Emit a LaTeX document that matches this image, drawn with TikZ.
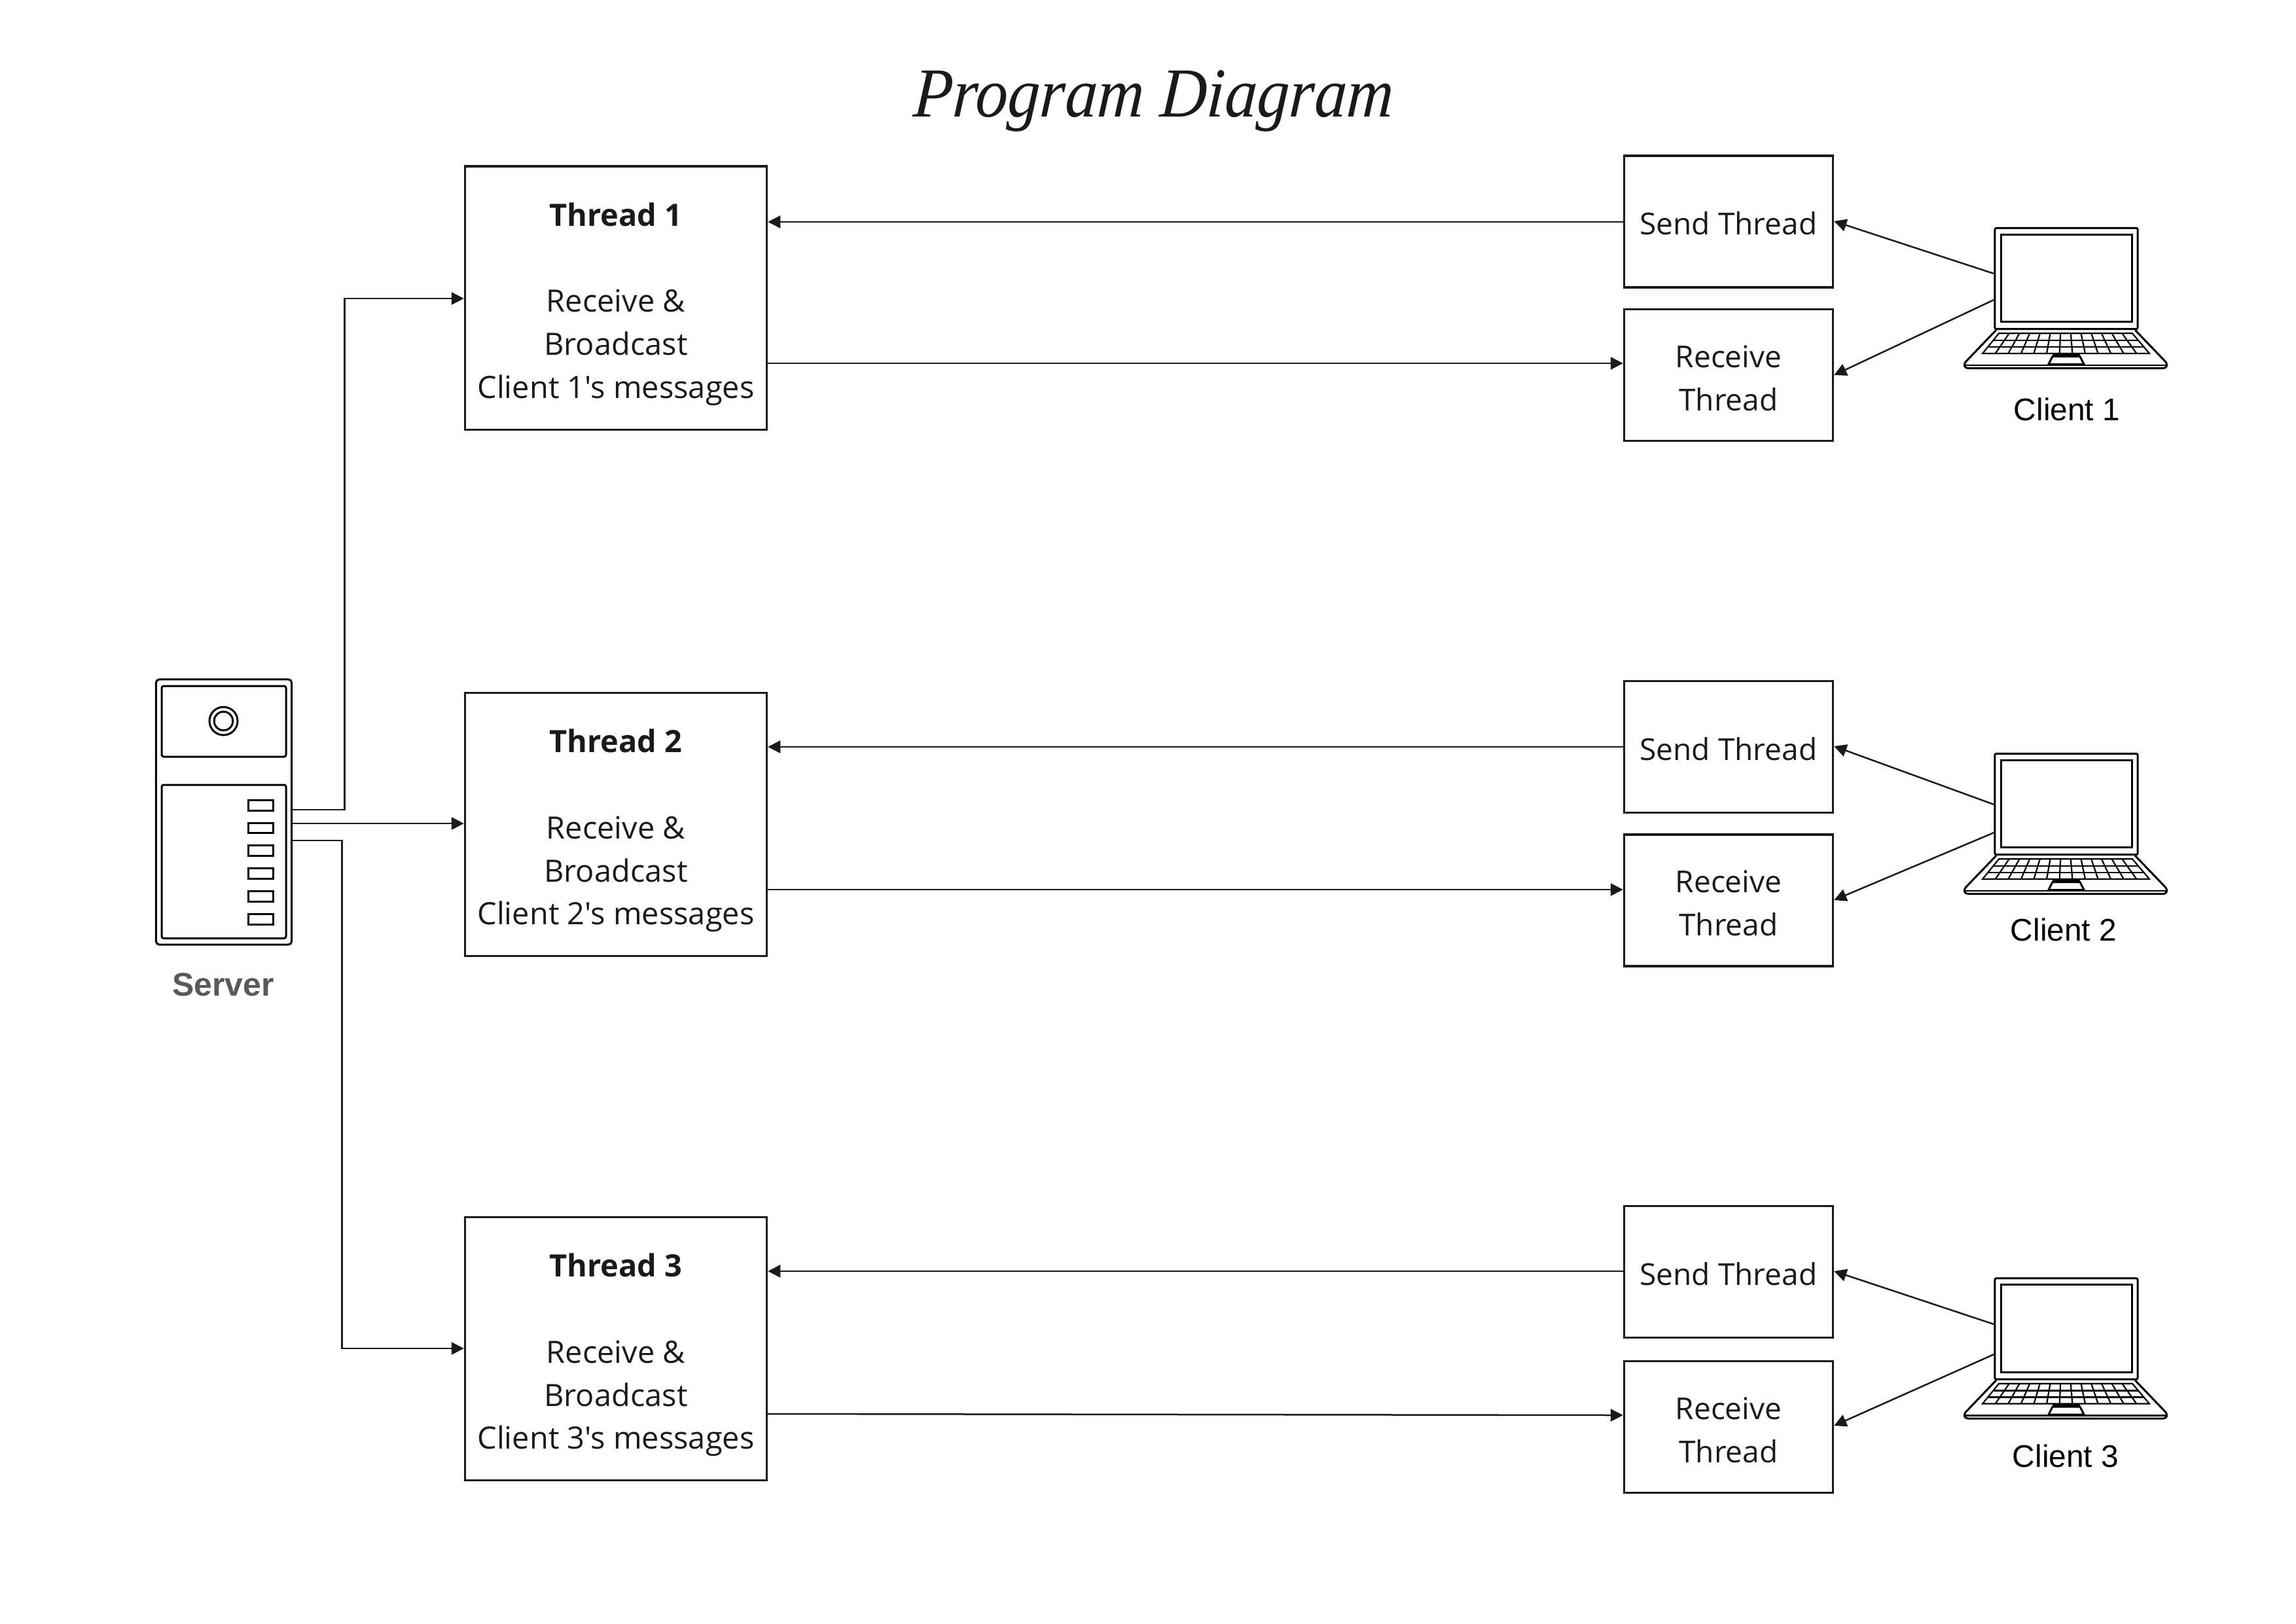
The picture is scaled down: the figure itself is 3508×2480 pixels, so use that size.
\documentclass[tikz,border=0pt]{standalone}
\usepackage{fontspec}
\setmainfont{Open Sans}[Ligatures=TeXOff]
\newfontfamily\arialf{Liberation Sans}
\newfontfamily\titlef[FakeStretch=0.92,FakeSlant=0.06]{Liberation Serif Italic}
\usetikzlibrary{arrows.meta}
\definecolor{ink}{HTML}{1A1A1A}
\definecolor{srvgrey}{HTML}{595959}
\newcommand{\tpad}{\rule{0pt}{0.55cm}}
\newcommand{\spad}{\rule{0pt}{0.41cm}}
\newcommand{\rpad}{\rule{0pt}{0.43cm}}
\tikzset{
  boxline/.style={draw=ink,line width=0.032cm,inner sep=0pt,align=center,text=ink,fill=white,rectangle},
  threadbox/.style={boxline,minimum width=4.61cm,minimum height=4.02cm,font=\fontsize{13.35}{18.7}\selectfont},
  workerbox/.style={boxline,minimum width=3.19cm,minimum height=2.01cm,font=\fontsize{13.1}{18.7}\selectfont},
  conn/.style={draw=ink,line width=0.025cm,-{Triangle[length=0.19cm,width=0.19cm]}},
  icon/.style={draw=black,line width=0.03cm},
  iconthin/.style={draw=black,line width=0.022cm},
  clientlabel/.style={font=\arialf\fontsize{13.6}{16}\selectfont,text=black,anchor=center,inner sep=0pt},
  lapscreen/.style={icon,rectangle,rounded corners=0.02cm,minimum width=2.18cm,minimum height=1.54cm,inner sep=0pt},
}
\begin{document}
\begin{tikzpicture}[x=0.01cm,y=-0.01cm]
\useasboundingbox (0,0) rectangle (3508,2480);
\fill[white] (0,0) rectangle (3508,2480);
% title
\node[anchor=base,inner sep=0pt,text=ink,font=\titlef\fontsize{30.5}{34}\selectfont] (title) at (1761,178) {Program Diagram};
% server
\node[icon,rectangle,rounded corners=0.05cm,minimum width=2.07cm,minimum height=4.05cm,inner sep=0pt] (server) at (342,1240.5) {};
\draw[icon,rounded corners=0.03cm] (247,1156) -- (247,1048) -- (437,1048) -- (437,1156) -- cycle;
\draw[icon,rounded corners=0.03cm] (247,1199) -- (437,1199) -- (437,1433.5) -- (247,1433.5) -- cycle;
\draw[icon] (341.5,1101.5) circle (21.5);
\draw[icon] (341.5,1101.5) circle (14.3);
\foreach \yy in {1230.7,1264.8,1299.7,1334.7,1369.7,1404.4}
  \draw[icon] (379,\yy-7.8) rectangle (417,\yy+7.8);
\node[anchor=center,inner sep=0pt,text=srvgrey,font=\arialf\bfseries\fontsize{14.2}{17}\selectfont] (srvlabel) at (341,1504) {Server};
% thread boxes
\node[threadbox] (t1) at (941,455) {\tpad\textbf{Thread 1}\\ \\ Receive \&\\ Broadcast\\ Client 1's messages};
\node[threadbox] (t2) at (941,1259.5) {\tpad\textbf{Thread 2}\\ \\ Receive \&\\ Broadcast\\ Client 2's messages};
\node[threadbox] (t3) at (941,2060.5) {\tpad\textbf{Thread 3}\\ \\ Receive \&\\ Broadcast\\ Client 3's messages};
% worker boxes
\node[workerbox] (s1) at (2641,338.5) {\spad Send Thread};
\node[workerbox] (r1) at (2641,573) {\rpad Receive\\ Thread};
\node[workerbox] (s2) at (2641,1141) {\spad Send Thread};
\node[workerbox] (r2) at (2641,1375.5) {\rpad Receive\\ Thread};
\node[workerbox] (s3) at (2641,1943) {\spad Send Thread};
\node[workerbox] (r3) at (2641,2180) {\rpad Receive\\ Thread};
% laptops
\foreach \nm/\off in {lap1/0,lap2/803,lap3/1604.5}{
\begin{scope}[yshift=-\off*0.01cm]
  \node[lapscreen] (\nm) at (3157,425.5) {};
  \draw[icon] (3057,358.3) rectangle (3257,491.7);
  \draw[icon,line join=round] (3050,504) -- (3003,553) .. controls (3000,557) and (3001,562.5) .. (3007,562.5) -- (3305,562.5) .. controls (3311,562.5) and (3312,557) .. (3309,553) -- (3262,504);
  \draw[iconthin] (3002,558) -- (3310,558);
  \draw[iconthin] (3054,509.3) -- (3258,509.3) -- (3284,540) -- (3029,540) -- cycle;
  \draw[iconthin] (3045,520) -- (3267,520);
  \draw[iconthin] (3037,530) -- (3276,530);
  \foreach \i in {1,...,12}
    \draw[iconthin] ({3054+\i*204/13},509.3) -- ({3029+\i*255/13},540);
  \fill[black] (3136,540) rectangle (3178,545);
  \draw[icon,fill=white] (3136,544.5) -- (3178,544.5) -- (3184,556.5) -- (3130,556.5) -- cycle;
\end{scope}}
\node[clientlabel] (c1) at (3158,625) {Client 1};
\node[clientlabel] (c2) at (3153,1420) {Client 2};
\node[clientlabel] (c3) at (3156,2224) {Client 3};
% connectors
\draw[conn] (server.east |- 0,1237) -- (526.5,1237) -- (526.5,456) -- (t1.west |- 0,456);
\draw[conn] (server.east |- 0,1258) -- (t2.west |- 0,1258);
\draw[conn] (server.east |- 0,1284) -- (522.5,1284) -- (522.5,2060) -- (t3.west |- 0,2060);
\draw[conn] (s1.west |- 0,339) -- (t1.east |- 0,339);
\draw[conn] (t1.east |- 0,555) -- (r1.west |- 0,555);
\draw[conn] (s2.west |- 0,1141) -- (t2.east |- 0,1141);
\draw[conn] (t2.east |- 0,1359) -- (r2.west |- 0,1359);
\draw[conn] (s3.west |- 0,1942) -- (t3.east |- 0,1942);
\draw[conn] (t3.east |- 0,2160) -- (r3.west |- 0,2162);
\draw[conn] (lap1.west |- 0,418) -- (s1.east |- 0,338);
\draw[conn] (lap1.west |- 0,458) -- (r1.east |- 0,573);
\draw[conn] (lap2.west |- 0,1229) -- (s2.east |- 0,1140);
\draw[conn] (lap2.west |- 0,1272) -- (r2.east |- 0,1375);
\draw[conn] (lap3.west |- 0,2023) -- (s3.east |- 0,1942);
\draw[conn] (lap3.west |- 0,2069) -- (r3.east |- 0,2178);
\end{tikzpicture}
\end{document}
